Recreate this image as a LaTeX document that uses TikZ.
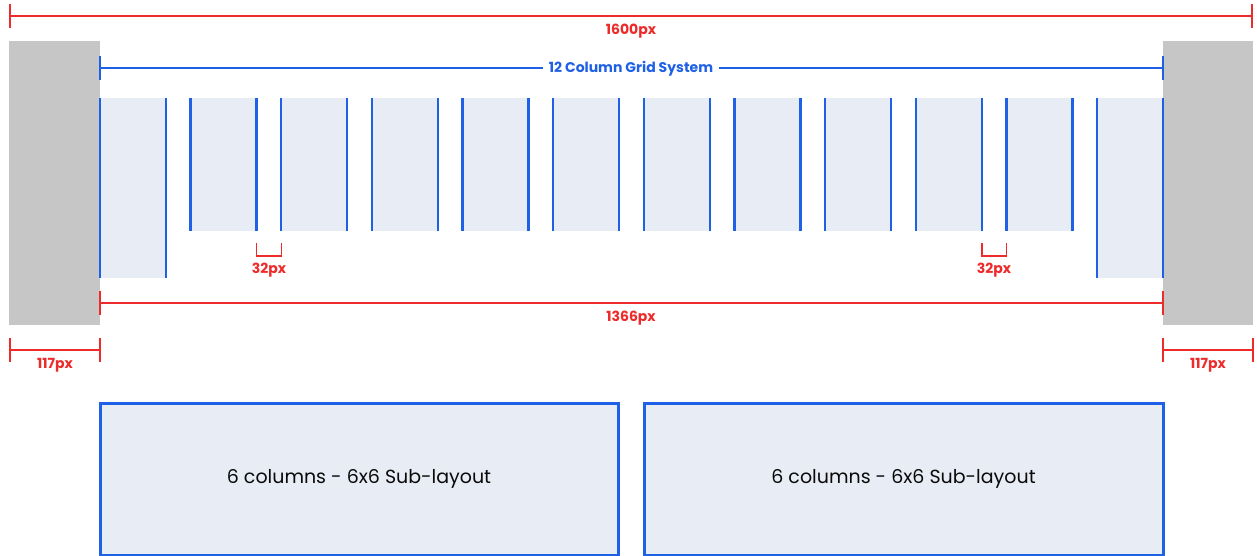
\documentclass[tikz,border=0pt]{standalone}
\usepackage{fontspec}
\setmainfont{Poppins}
\usetikzlibrary{calc}
\definecolor{dimred}{HTML}{EE2B2B}
\definecolor{gridblue}{HTML}{1E60E6}
\definecolor{margray}{HTML}{C6C6C6}
\definecolor{colfill}{HTML}{E8ECF4}
\definecolor{ink}{HTML}{0A0A0A}
\tikzset{
  marginbox/.style={fill=margray, inner sep=0pt, outer sep=0pt, anchor=north west},
  colbox/.style={fill=colfill, inner sep=0pt, outer sep=0pt, anchor=north west, minimum width=66pt},
  colline/.style={draw=gridblue, line width=2.4pt},
  dimline/.style={draw=dimred, line width=1.5pt},
  gridline/.style={draw=gridblue, line width=1.5pt},
  dimlabel/.style={text=dimred, font=\fontsize{14}{16}\selectfont\bfseries, inner sep=0pt},
  gridlabel/.style={text=gridblue, font=\fontsize{14}{16}\selectfont\bfseries, fill=white, inner xsep=6pt, inner ysep=2pt},
  subbox/.style={draw=gridblue, line width=3pt, fill=colfill, anchor=north west, inner sep=0pt, outer sep=0pt,
    minimum height=152pt, text=ink, font=\fontsize{19}{23}\selectfont}
}
\begin{document}
\begin{tikzpicture}[x=1pt,y=-1pt]
\useasboundingbox (0,0) rectangle (1257,556);
\fill[white] (0,0) rectangle (1257,556);

% margins
\node[marginbox, minimum width=91pt, minimum height=284pt] (ml) at (9,41) {};
\node[marginbox, minimum width=90pt, minimum height=284pt] (mr) at (1163,41) {};

% columns
\foreach \i in {0,...,11}{
  \pgfmathsetmacro\xl{100+90.64*\i}
  \pgfmathsetmacro\hh{(\i==0||\i==11)?180:133}
  \node[colbox, minimum height=\hh pt] (col\i) at (\xl,98) {};
  \draw[colline] (col\i.north west) -- (col\i.south west);
  \draw[colline] (col\i.north east) -- (col\i.south east);
}

% 1600px dimension
\coordinate (t1) at (10,16);
\coordinate (t2) at (1252,16);
\draw[dimline] (t1) -- (t2);
\draw[dimline] ($(t1)+(0,-12)$) -- ($(t1)+(0,12)$);
\draw[dimline] ($(t2)+(0,-12)$) -- ($(t2)+(0,12)$);
\node[dimlabel] (l1600) at (631,31.5) {1600px};

% 12 column grid system
\coordinate (g1) at (100,68);
\coordinate (g2) at (1163,68);
\draw[gridline] (g1) -- (g2);
\draw[gridline] ($(g1)+(0,-12)$) -- ($(g1)+(0,12)$);
\draw[gridline] ($(g2)+(0,-12)$) -- ($(g2)+(0,12)$);
\node[gridlabel] (lgrid) at (631,69) {12 Column Grid System};

% 32px brackets
\draw[dimline] ($(col1.south east)+(0,12)$) -- ($(col1.south east)+(0,25)$) -- ($(col2.south west)+(0,25)$) -- ($(col2.south west)+(0,12)$);
\node[dimlabel] (l32a) at ($(col1.south east)!0.5!(col2.south west)+(0,39.5)$) {32px};
\draw[dimline] ($(col9.south east)+(0,12)$) -- ($(col9.south east)+(0,25)$) -- ($(col10.south west)+(0,25)$) -- ($(col10.south west)+(0,12)$);
\node[dimlabel] (l32b) at ($(col9.south east)!0.5!(col10.south west)+(0,39.5)$) {32px};

% 1366px dimension
\coordinate (c1) at (100,303);
\coordinate (c2) at (1163,303);
\draw[dimline] (c1) -- (c2);
\draw[dimline] ($(c1)+(0,-12)$) -- ($(c1)+(0,12)$);
\draw[dimline] ($(c2)+(0,-12)$) -- ($(c2)+(0,12)$);
\node[dimlabel] (l1366) at (631,318.5) {1366px};

% 117px dimensions
\coordinate (a1) at (10,350);
\coordinate (a2) at (100,350);
\draw[dimline] (a1) -- (a2);
\draw[dimline] ($(a1)+(0,-12)$) -- ($(a1)+(0,12)$);
\draw[dimline] ($(a2)+(0,-12)$) -- ($(a2)+(0,12)$);
\node[dimlabel] (l117a) at (55,365.5) {117px};
\coordinate (b1) at (1163,350);
\coordinate (b2) at (1253,350);
\draw[dimline] (b1) -- (b2);
\draw[dimline] ($(b1)+(0,-12)$) -- ($(b1)+(0,12)$);
\draw[dimline] ($(b2)+(0,-12)$) -- ($(b2)+(0,12)$);
\node[dimlabel] (l117b) at (1208,365.5) {117px};

% sub-layout boxes
\node[subbox, minimum width=518pt] (s1) at (100,403) {6 columns - 6x6 Sub-layout};
\node[subbox, minimum width=519pt] (s2) at (644,403) {6 columns - 6x6 Sub-layout};
\end{tikzpicture}
\end{document}
